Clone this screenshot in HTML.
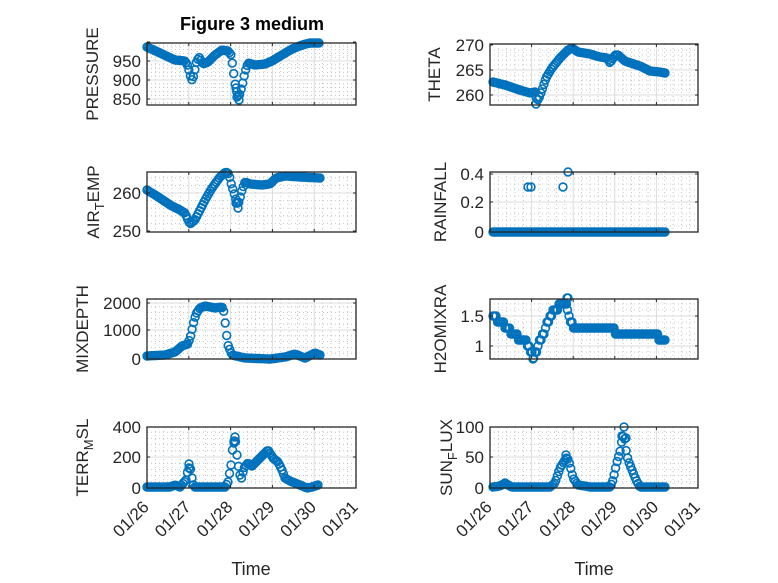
<!DOCTYPE html>
<html><head><meta charset="utf-8"><style>
html,body{margin:0;padding:0;background:#fff;}
svg{display:block;font-family:"Liberation Sans",sans-serif;}
</style></head><body>
<svg id="s" width="778" height="583" xmlns="http://www.w3.org/2000/svg">
<rect width="778" height="583" fill="#fff"/>
<text x="252" y="30" font-size="18" font-weight="bold" text-anchor="middle" fill="#000">Figure 3 medium</text>
<text x="251" y="575" font-size="18" text-anchor="middle" fill="#262626">Time</text>
<text x="594" y="575" font-size="18" text-anchor="middle" fill="#262626">Time</text>
</svg>
<script>
var S=document.getElementById('s'),NS='http://www.w3.org/2000/svg';
function el(t,a,txt){var e=document.createElementNS(NS,t);for(var k in a)e.setAttribute(k,a[k]);if(txt!==undefined)e.textContent=txt;S.appendChild(e);return e;}
var P=[
{x0:147,x1:356,y0:43,y1:105,yt:[[850,99],[900,80],[950,61],[1000,42]],lab:['850','900','950',''],ylab:'PRESSURE',lx:92,
 pts:[[147,47],[160,53],[175,60],[185,61],[188,66],[190,75],[192,80],[194,75],[196,63],[199,57],[203,64],[208,62],[215,55],[222,50],[228,51],[231,55],[233,68],[235,83],[237,93],[239,97],[241,90],[243,82],[245,72],[248,63],[255,65],[265,64],[272,61],[282,55],[292,49],[302,45],[310,43],[319,43]],
 extra:[[237,97],[239,100],[236,88]]},
{x0:147,x1:356,y0:172,y1:232,yt:[[250,231],[260,193]],lab:['250','260'],ylab:'AIR|T|EMP',lx:93,
 pts:[[147,190],[160,198],[170,205],[180,210],[185,213],[188,220],[190,224],[195,220],[200,210],[205,200],[212,188],[220,177],[226,172],[229,174],[231,183],[234,193],[236,200],[238,205],[240,198],[242,190],[245,182],[250,184],[262,185],[270,184],[276,178],[285,176],[300,177],[320,178]],
 extra:[[238,208],[236,203]]},
{x0:147,x1:356,y0:299,y1:359,yt:[[0,359],[1000,330],[2000,303]],lab:['0','1000','2000'],ylab:'MIXDEPTH',lx:82,
 pts:[[147,356],[165,355],[175,352],[182,346],[188,344],[191,335],[193,325],[196,314],[200,308],[205,306],[215,308],[222,307],[224,312],[226,330],[228,345],[232,355],[245,358],[270,359],[285,357],[295,354],[305,358],[315,353],[320,355]]},
{x0:147,x1:356,y0:427,y1:488,yt:[[0,488],[200,457],[400,427]],lab:['0','200','400'],ylab:'TERR|M|SL',lx:82,x:true,
 pts:[[147,487],[170,487],[175,485],[180,487],[186,480],[188,470],[190,466],[192,478],[194,487],[225,487],[228,482],[231,465],[233,445],[235,437],[237,455],[239,470],[241,480],[244,468],[248,463],[252,466],[258,460],[263,455],[268,450],[273,458],[278,462],[282,470],[285,478],[290,481],[300,485],[307,488],[312,487],[318,485]],
 extra:[[235,437],[234,443],[189,464]]},
{x0:490,x1:698,y0:44,y1:105,yt:[[260,95],[265,70],[270,45]],lab:['260','265','270'],ylab:'THETA',lx:434,
 pts:[[493,82],[505,85],[520,90],[530,93],[535,92],[537,101],[539,98],[542,90],[546,78],[552,68],[560,58],[568,50],[572,48],[578,52],[590,54],[600,57],[607,58],[610,63],[615,55],[618,55],[625,61],[640,66],[650,71],[660,72],[665,73]],
 extra:[[536,104]]},
{x0:490,x1:698,y0:172,y1:232,yt:[[0,232],[0.2,202],[0.4,174]],lab:['0','0.2','0.4'],ylab:'RAINFALL',lx:440,
 pts:[[493,232],[665,232]],extra:[[528,187],[531,187],[563,187],[568,172]]},
{x0:490,x1:698,y0:299,y1:359,yt:[[1,346],[1.5,316]],lab:['1','1.5'],ylab:'H2OMIXRA',lx:440,q:6,
 pts:[[493,318],[500,320],[505,326],[510,331],[515,336],[520,338],[525,339],[530,348],[533,357],[536,352],[540,340],[545,330],[550,317],[555,309],[560,305],[565,305],[568,299],[567,305],[570,318],[572,325],[580,325],[590,325],[600,327],[612,330],[618,333],[625,333],[640,333],[655,333],[660,338],[665,338]],
 extra:[[567,298],[533,359]]},
{x0:490,x1:698,y0:427,y1:488,yt:[[0,488],[50,457],[100,427]],lab:['0','50','100'],ylab:'SUN|F|LUX',lx:446,x:true,
 pts:[[493,487],[500,486],[505,483],[508,485],[512,487],[550,487],[555,483],[560,468],[565,460],[567,457],[570,465],[573,478],[578,485],[585,486],[590,487],[610,487],[613,480],[617,462],[620,452],[622,440],[624,434],[626,450],[628,460],[632,470],[636,480],[640,487],[665,487]],
 extra:[[624,427],[622,436],[626,438],[566,455]]}
];
var days=['01/26','01/27','01/28','01/29','01/30','01/31'];
P.forEach(function(p){
  var w=p.x1-p.x0,dx=w/5;
  for(var i=0;i<25;i++){if(i%5==0)continue;var x=p.x0+dx*i/5;el('line',{x1:x,x2:x,y1:p.y0,y2:p.y1,stroke:'#b8b8b8','stroke-width':0.8,'stroke-dasharray':'1,3'});}
  var yt=p.yt,sp=yt[1][1]-yt[0][1];
  for(var k=-10;k<40;k++){var y=yt[0][1]+sp*k/5;if(k%5==0||y<=p.y0+0.5||y>=p.y1-0.5)continue;el('line',{x1:p.x0,x2:p.x1,y1:y,y2:y,stroke:'#b8b8b8','stroke-width':0.8,'stroke-dasharray':'1,3'});}
  for(var i=1;i<5;i++){var x=p.x0+dx*i;el('line',{x1:x,x2:x,y1:p.y0,y2:p.y1,stroke:'#dcdcdc','stroke-width':1});}
  yt.forEach(function(t){if(t[1]>p.y0+1&&t[1]<p.y1-1)el('line',{x1:p.x0,x2:p.x1,y1:t[1],y2:t[1],stroke:'#dcdcdc','stroke-width':1});});
  var g=[],pts=p.pts;
  var L=[0];for(var i=1;i<pts.length;i++)L.push(L[i-1]+Math.abs(pts[i][0]-pts[i-1][0])+0.0001);
  var tot=L[L.length-1],n=Math.round(tot/1.5);
  for(var j=0;j<=n;j++){var d=tot*j/n,s=1;while(s<pts.length-1&&L[s]<d)s++;var f=(d-L[s-1])/(L[s]-L[s-1]);
    var px=pts[s-1][0]+f*(pts[s][0]-pts[s-1][0]),py=pts[s-1][1]+f*(pts[s][1]-pts[s-1][1]);
    if(p.q){py=yt[0][1]+Math.round((py-yt[0][1])/p.q)*p.q;}
    g.push([px,py]);}
  if(p.extra)g=g.concat(p.extra);
  g.forEach(function(c){el('circle',{cx:c[0].toFixed(1),cy:c[1].toFixed(1),r:3.9,fill:'none',stroke:'#0072BD','stroke-width':1.6});});
  el('rect',{x:p.x0,y:p.y0,width:w,height:p.y1-p.y0,fill:'none',stroke:'#262626','stroke-width':1.3});
  for(var i=1;i<5;i++){var x=p.x0+dx*i;el('line',{x1:x,x2:x,y1:p.y1,y2:p.y1-3,stroke:'#262626'});el('line',{x1:x,x2:x,y1:p.y0,y2:p.y0+3,stroke:'#262626'});}
  yt.forEach(function(t,i){el('line',{x1:p.x0,x2:p.x0+3,y1:t[1],y2:t[1],stroke:'#262626'});el('line',{x1:p.x1,x2:p.x1-3,y1:t[1],y2:t[1],stroke:'#262626'});
    if(p.lab[i])el('text',{x:p.x0-6,y:t[1]+6,'font-size':17,'text-anchor':'end',fill:'#262626'},p.lab[i]);});
  var cy=(p.y0+p.y1)/2,parts=p.ylab.split('|');
  var t=el('text',{x:0,y:0,'font-size':17,'text-anchor':'middle',fill:'#262626',transform:'translate('+(p.lx+6)+','+cy+') rotate(-90)'});
  if(parts.length==1)t.textContent=parts[0];else{
    var a=document.createElementNS(NS,'tspan');a.textContent=parts[0];t.appendChild(a);
    var b=document.createElementNS(NS,'tspan');b.setAttribute('font-size','13');b.setAttribute('dy','5');b.textContent=parts[1];t.appendChild(b);
    var c=document.createElementNS(NS,'tspan');c.setAttribute('dy','-5');c.textContent=parts[2];t.appendChild(c);}
  if(p.x){for(var i=0;i<6;i++){var x=p.x0+dx*i+3;el('text',{x:0,y:0,'font-size':17,'text-anchor':'end',fill:'#262626',transform:'translate('+x+','+(p.y1+20)+') rotate(-45)'},days[i]);}}
});
</script>
</body></html>
